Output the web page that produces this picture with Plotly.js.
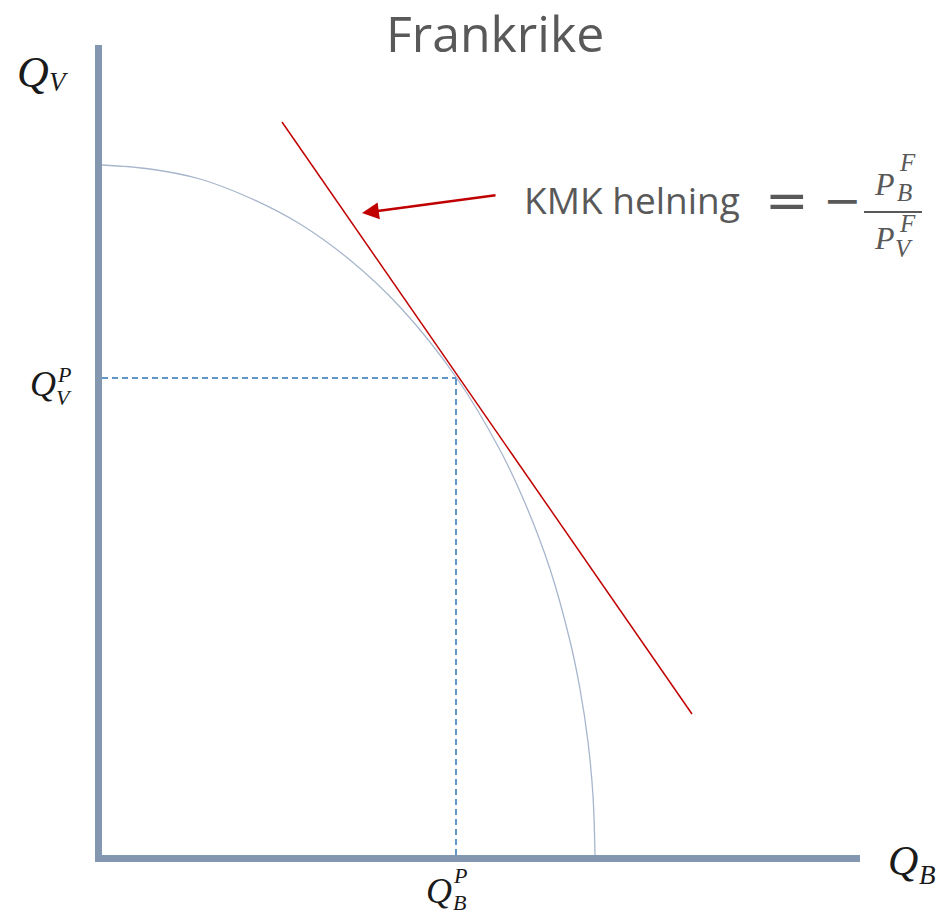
<!DOCTYPE html>
<html>
<head>
<meta charset="utf-8">
<script src="https://cdn.plot.ly/plotly-3.0.1.min.js"></script>
<style>html,body{margin:0;padding:0;background:#fff;}#chart{width:943px;height:916px;}</style>
</head>
<body>
<div id="chart"></div>
<script>
// Production possibility frontier
var curveB = [0, 48, 98, 148, 198, 248, 298, 354, 398, 423, 448, 468, 478, 486, 491, 493];
var curveV = [690, 686, 676, 657, 631, 595, 548, 478, 405, 352, 286, 214, 166, 113, 59, 0];
// Tangent line (KMK)
var kmkB = [180, 590];
var kmkV = [733, 141];
// Production point
var prodB = 354;
var prodV = 477;
// Arrow (tail -> head)
var arrowTail = [395, 660];
var arrowHead = [260, 642];
var titleText = 'Frankrike';
var kmkLabel = 'KMK helning';

var serif = 'Liberation Serif, DejaVu Serif, serif';
var sans = 'Open Sans, sans-serif';
var grey = '#595959';
var ink = '#1a1a1a';

var traces = [
  {x: curveB, y: curveV, mode: 'lines', line: {color: '#A7B6CC', width: 1.3, shape: 'spline', smoothing: 1}, hoverinfo: 'skip'},
  {x: kmkB, y: kmkV, mode: 'lines', line: {color: '#C00000', width: 1.5}, hoverinfo: 'skip'},
  {x: [0, prodB], y: [prodV, prodV], mode: 'lines', line: {color: '#2E75B6', width: 1.5, dash: '6px,4px'}, hoverinfo: 'skip'},
  {x: [prodB, prodB], y: [0, prodV], mode: 'lines', line: {color: '#2E75B6', width: 1.5, dash: '6px,4px'}, hoverinfo: 'skip'}
];

// label placement in paper coordinates (plot area: x 102..860, y 45..855)
function PX(px){ return (px - 102) / 758; }
function PY(py){ return (855 - py) / 810; }
function lab(text, px, py, size, color, family, xanchor){
  return {x: PX(px), y: PY(py), xref: 'paper', yref: 'paper', text: text, showarrow: false,
    xanchor: xanchor || 'center', yanchor: 'middle', font: {family: family, size: size, color: color}};
}

var annotations = [
  {x: arrowHead[0], y: arrowHead[1], ax: arrowTail[0], ay: arrowTail[1], axref: 'x', ayref: 'y',
   xref: 'x', yref: 'y', text: '', showarrow: true, arrowhead: 2, arrowsize: 1.35, arrowwidth: 2.5, arrowcolor: '#C00000'},
  lab(kmkLabel, 522, 200, 37, grey, sans, 'left'),
  lab('=', 787, 200, 52, grey, 'DejaVu Sans'),
  lab('−', 842, 200, 46, grey, 'DejaVu Sans'),
  lab('<i>P</i>', 884, 184, 32, grey, serif),
  lab('<i>F</i>', 907, 162, 25, grey, serif),
  lab('<i>B</i>', 904, 192, 25, grey, serif),
  lab('<i>P</i>', 884, 238, 32, grey, serif),
  lab('<i>F</i>', 907, 223, 25, grey, serif),
  lab('<i>V</i>', 904, 248, 25, grey, serif),
  // Q_V (axis label)
  lab('<i>Q</i>', 33, 72, 44, ink, serif),
  lab('<i>V</i>', 59, 82, 27, ink, serif),
  // Q_V^P
  lab('<i>Q</i>', 43, 384, 36, ink, serif),
  lab('<i>P</i>', 64, 374, 22, ink, serif),
  lab('<i>V</i>', 64, 397, 22, ink, serif),
  // Q_B^P
  lab('<i>Q</i>', 439, 891, 36, ink, serif),
  lab('<i>P</i>', 460, 875, 22, ink, serif),
  lab('<i>B</i>', 459, 902, 22, ink, serif),
  // Q_B (axis label)
  lab('<i>Q</i>', 903, 861, 42, ink, serif),
  lab('<i>B</i>', 927, 875, 27, ink, serif)
];

var layout = {
  width: 943, height: 916,
  margin: {l: 102, r: 83, t: 45, b: 61},
  paper_bgcolor: '#ffffff', plot_bgcolor: '#ffffff',
  showlegend: false,
  title: {text: titleText, font: {family: sans, size: 50, color: grey}, x: 0.525, xref: 'container', xanchor: 'center', y: 1 - 34/916, yref: 'container', yanchor: 'middle'},
  xaxis: {range: [0, 758], showline: true, linewidth: 7, linecolor: '#8497B0', showgrid: false, zeroline: false, showticklabels: false, ticks: ''},
  yaxis: {range: [0, 810], showline: true, linewidth: 7, linecolor: '#8497B0', showgrid: false, zeroline: false, showticklabels: false, ticks: ''},
  shapes: [
    {type: 'line', xref: 'paper', yref: 'paper', x0: PX(864), x1: PX(922), y0: PY(212), y1: PY(212), line: {color: grey, width: 2}}
  ],
  annotations: annotations
};

Plotly.newPlot('chart', traces, layout, {displayModeBar: false, staticPlot: true});
</script>
</body>
</html>
